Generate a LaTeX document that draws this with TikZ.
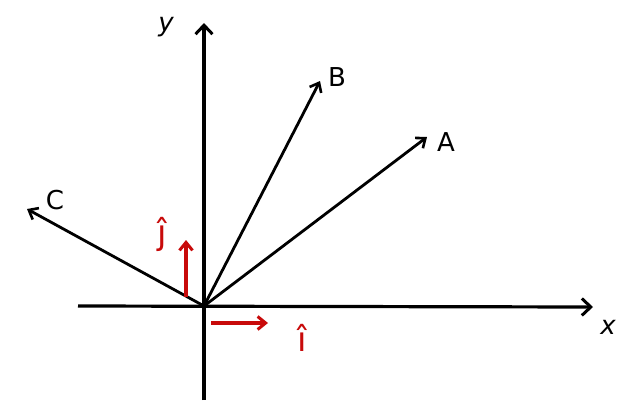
\documentclass[tikz,border=0pt]{standalone}
\usepackage{fontspec}
\setmainfont{DejaVu Sans}
\usetikzlibrary{arrows.meta}
\definecolor{hred}{RGB}{200,10,10}
\tikzset{
  vec/.style={line width=2.8pt, -{Straight Barb[length=8pt,width=13pt,line width=2.6pt]}},
  ax/.style={line width=3.2pt, -{Straight Barb[length=9pt,width=17pt,line width=3pt]}},
  unit/.style={hred, line width=3.4pt, -{Straight Barb[length=8pt,width=13pt,line width=3pt]}},
  lbl/.style={font=\fontsize{26}{26}\selectfont, inner sep=1pt},
  rlbl/.style={hred, font=\fontsize{34}{34}\selectfont, inner sep=1pt},
}
\begin{document}
\begin{tikzpicture}[x=1pt,y=-1pt]
\useasboundingbox (0,0) rectangle (632,400);
\coordinate (O) at (204,306);
\coordinate (xl) at (78,306);
\coordinate (xr) at (593,307);
\coordinate (yb) at (204,400);
\coordinate (yt) at (204,23);
\coordinate (At) at (427,137);
\coordinate (Bt) at (320,81);
\coordinate (Ct) at (27,209);
\coordinate (i0) at (211,323);
\coordinate (i1) at (268,323);
\coordinate (j0) at (186,297);
\coordinate (j1) at (186,240);
\draw[ax] (xl) -- (xr);
\draw[ax] (yb) -- (yt);
\draw[vec] (O) -- (At);
\draw[vec] (O) -- (Bt);
\draw[vec] (O) -- (Ct);
\draw[unit] (i0) -- (i1);
\draw[unit] (j0) -- (j1);
\node[lbl] (xlab) at (608,327) {\itshape x};
\node[lbl] (ylab) at (166,27) {\itshape y};
\node[lbl] (Alab) at (446,142) {A};
\node[lbl] (Blab) at (337,77) {B};
\node[lbl] (Clab) at (55,200) {C};
\node[rlbl] (ilab) at (302,338) {î};
\node[rlbl] (jlab) at (162,234) {ĵ};
\end{tikzpicture}
\end{document}
